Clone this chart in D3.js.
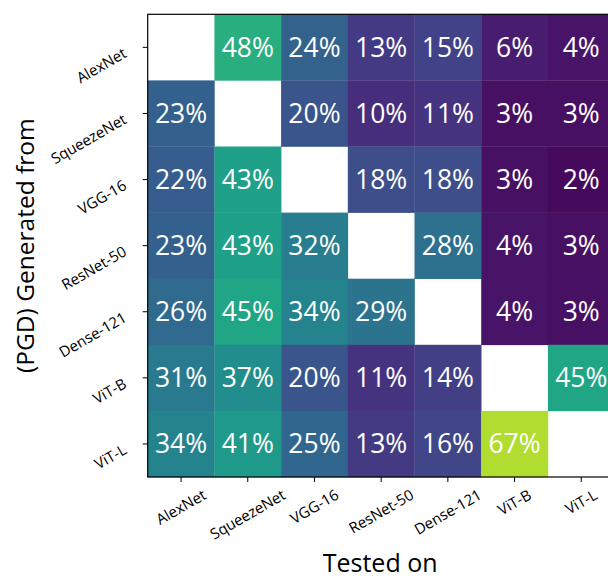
<!DOCTYPE html>
<html>
<head>
<meta charset="utf-8">
<script src="https://cdn.jsdelivr.net/npm/d3@7"></script>
<style>
  body { margin: 0; background: #fff; }
  svg { display: block; font-family: "Open Sans", "Noto Sans", sans-serif; }
</style>
</head>
<body>
<div id="chart"></div>
<script>
// models, rows = attack generated from, columns = tested on
const sources = ['AlexNet', 'SqueezeNet', 'VGG-16', 'ResNet-50', 'Dense-121', 'ViT-B', 'ViT-L'];
const targets = ['AlexNet', 'SqueezeNet', 'VGG-16', 'ResNet-50', 'Dense-121', 'ViT-B', 'ViT-L'];

// transfer rates in %, null on the diagonal
const rowAlexNet    = [null, 48, 24, 13, 15, 6, 4];
const rowSqueezeNet = [23, null, 20, 10, 11, 3, 3];
const rowVGG16      = [22, 43, null, 18, 18, 3, 2];
const rowResNet50   = [23, 43, 32, null, 28, 4, 3];
const rowDense121   = [26, 45, 34, 29, null, 4, 3];
const rowViTB       = [31, 37, 20, 11, 14, null, 45];
const rowViTL       = [34, 41, 25, 13, 16, 67, null];

const rows = [rowAlexNet, rowSqueezeNet, rowVGG16, rowResNet50, rowDense121, rowViTB, rowViTL];

const W = 608, H = 581;
const margin = { left: 147.7, top: 14.3 };
const cellW = 66.7, cellH = 66.1;

let cells = [];
rows.forEach((r, i) => r.forEach((v, j) => {
  cells.push({ src: sources[i], tgt: targets[j], v: v });
}));

const svg = d3.select('#chart').append('svg')
  .attr('width', W).attr('height', H);

const x = d3.scaleBand().domain(targets)
  .range([margin.left, margin.left + cellW * targets.length]);
const y = d3.scaleBand().domain(sources)
  .range([margin.top, margin.top + cellH * sources.length]);
const colour = d3.scaleSequential(d3.interpolateViridis).domain([0, 76]);

const g = svg.append('g');

g.selectAll('rect.cell')
  .data(cells.filter(c => c.v !== null))
  .enter().append('rect')
  .attr('class', 'cell')
  .attr('x', c => x(c.tgt))
  .attr('y', c => y(c.src))
  .attr('width', x.bandwidth() + 0.3)
  .attr('height', y.bandwidth() + 0.3)
  .attr('fill', c => colour(c.v));

g.selectAll('text.val')
  .data(cells.filter(c => c.v !== null))
  .enter().append('text')
  .attr('class', 'val')
  .attr('x', c => x(c.tgt) + x.bandwidth() / 2)
  .attr('y', c => y(c.src) + y.bandwidth() / 2)
  .attr('dy', '0.36em')
  .attr('text-anchor', 'middle')
  .attr('fill', '#fff')
  .style('font-size', '26.5px')
  .text(c => c.v + '%');

// frame
const x0 = x.range()[0], x1 = x.range()[1];
const y0 = y.range()[0], y1 = y.range()[1];
svg.append('rect')
  .attr('x', x0).attr('y', y0)
  .attr('width', x1 - x0).attr('height', y1 - y0)
  .attr('fill', 'none').attr('stroke', '#000').attr('stroke-width', 1.2);

// x ticks
const xt = svg.append('g');
targets.forEach(t => {
  const cx = x(t) + x.bandwidth() / 2;
  xt.append('line')
    .attr('x1', cx).attr('x2', cx)
    .attr('y1', y1).attr('y2', y1 + 5)
    .attr('stroke', '#000').attr('stroke-width', 1);
  const lab = xt.append('text')
    .attr('text-anchor', 'middle')
    .attr('dy', '0.35em')
    .style('font-size', '15px')
    .text(t);
  const L = lab.node().getComputedTextLength();
  const cy = y1 + 9 + L / 4 + 7.5;
  lab.attr('transform', `translate(${cx},${cy}) rotate(-30)`);
});

// y ticks
const yt = svg.append('g');
sources.forEach(s => {
  const cy = y(s) + y.bandwidth() / 2;
  yt.append('line')
    .attr('x1', x0 - 5).attr('x2', x0)
    .attr('y1', cy).attr('y2', cy)
    .attr('stroke', '#000').attr('stroke-width', 1);
  yt.append('text')
    .attr('text-anchor', 'end')
    .attr('transform', `translate(${x0 - 20},${cy + 9}) rotate(-30)`)
    .style('font-size', '15px')
    .text(s);
});

// axis titles
svg.append('text')
  .attr('text-anchor', 'middle')
  .attr('transform', `translate(${(x0 + x1) / 2 - 1},${572})`)
  .style('font-size', '25px')
  .text('Tested on');

svg.append('text')
  .attr('text-anchor', 'middle')
  .attr('transform', `translate(${34},${(y0 + y1) / 2}) rotate(-90)`)
  .style('font-size', '24.5px')
  .text('(PGD) Generated from');
</script>
</body>
</html>
